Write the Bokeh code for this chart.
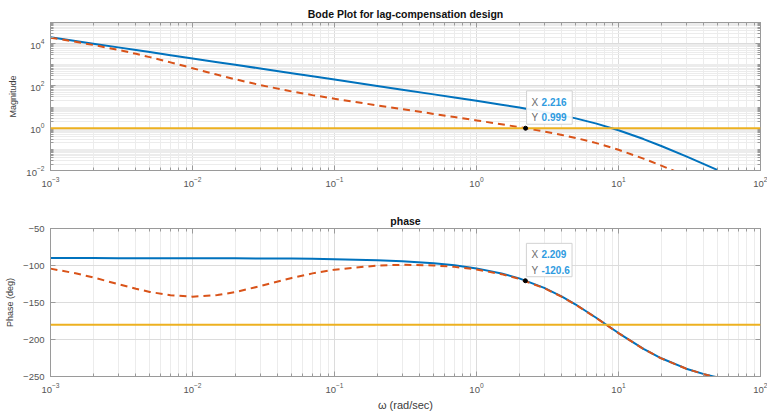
from bokeh.plotting import figure
from bokeh.layouts import column
from bokeh.models import (Span, Label, FixedTicker, LogAxis, LinearAxis, LogTicker,
                          Range1d, CustomJSTickFormatter)
from bokeh.embed import file_html
from bokeh.resources import INLINE

# ---------------- data ----------------
omega = [0.001, 0.0015, 0.002, 0.003, 0.004, 0.005, 0.007, 0.01, 0.015, 0.02,
         0.03, 0.05, 0.07, 0.1, 0.2, 0.3, 0.5, 0.7, 1.0, 1.5, 2.0, 3.0, 4.0,
         5.0, 7.0, 10.0, 15.0, 20.0, 30.0, 40.0, 50.0]

mag_uncomp = [20000, 13333, 10000, 6667, 5000, 4000, 2857, 2000, 1333, 1000,
              666.7, 400, 285.7, 200, 99.94, 66.58, 39.85, 28.36, 19.71, 12.90,
              9.439, 5.880, 4.039, 2.916, 1.653, 0.8041, 0.3068, 0.1439,
              0.04635, 0.02017, 0.01048]

mag_comp = [19220, 12244, 8672, 5057, 3297, 2305, 1299, 690.0, 336.5, 206.5,
            109.6, 54.88, 36.75, 24.76, 12.01, 7.957, 4.749, 3.375, 2.345,
            1.535, 1.123, 0.6995, 0.4805, 0.3469, 0.1967, 0.09566, 0.03650,
            0.01712, 0.005514, 0.0024, 0.001247]

phase_uncomp = [-90.01, -90.02, -90.03, -90.04, -90.06, -90.07, -90.10, -90.14,
                -90.21, -90.28, -90.42, -90.70, -90.98, -91.40, -92.79, -94.19,
                -96.98, -99.76, -103.91, -110.73, -117.41, -130.18, -142.01,
                -152.75, -170.98, -191.28, -212.67, -225.40, -239.42, -246.83,
                -251.37]

phase_comp = [-104.20, -110.56, -116.19, -125.14, -131.43, -135.68, -140.29,
              -142.08, -139.91, -135.90, -127.89, -116.86, -110.66, -105.59,
              -100.05, -99.05, -99.90, -101.85, -105.37, -111.70, -118.14,
              -130.67, -142.37, -153.04, -171.19, -191.43, -212.77, -225.47,
              -239.47, -246.87, -251.40]

mag_reference = 1.0
phase_reference = -180.0

tip_mag_x = [2.216]
tip_mag_y = [0.999]
tip_phase_x = [2.209]
tip_phase_y = [-120.6]

mag_major_ticks = [1e-2, 1e0, 1e2, 1e4]
phase_major_ticks = [-250, -200, -150, -100, -50]

# ---------------- styling ----------------
FONT = "Liberation Sans"
AX = "#9a9a9a"
TICK_TXT = "#555555"
BLUE = "#0072BD"
ORANGE = "#D95319"
YELLOW = "#EDB120"
TIP_VAL = "#2f9be0"

W = 767


def style_axes(p):
    p.background_fill_color = "white"
    p.border_fill_color = "white"
    p.outline_line_color = AX
    p.outline_line_width = 1
    for ax in p.axis:
        ax.axis_line_color = AX
        ax.major_tick_line_color = AX
        ax.minor_tick_line_color = AX
        ax.major_tick_in = 5
        ax.major_tick_out = 0
        ax.minor_tick_in = 3
        ax.minor_tick_out = 0
        ax.major_label_text_font = FONT
        ax.major_label_text_font_size = "9.5px"
        ax.major_label_text_color = TICK_TXT
        ax.axis_label_text_font = FONT
        ax.axis_label_text_font_style = "normal"
        ax.axis_label_text_color = "#3c3c3c"
    p.xaxis.major_label_standoff = 6
    p.yaxis.major_label_standoff = 6
    p.yaxis.axis_label_standoff = 5
    p.yaxis.axis_label_text_font_size = "9px"
    for g in p.grid:
        g.grid_line_color = "#dcdcdc"
        g.grid_line_width = 1
    p.title.text_font = FONT
    p.title.text_font_size = "10.5px"
    p.title.text_font_style = "bold"
    p.title.align = "center"
    p.title.text_color = "#111111"


def add_box_axes(p, xlog, ylog):
    xt = p.xaxis[0].ticker
    yt = p.yaxis[0].ticker
    top = (LogAxis if xlog else LinearAxis)(ticker=xt)
    right = (LogAxis if ylog else LinearAxis)(ticker=yt)
    for ax in (top, right):
        ax.formatter = CustomJSTickFormatter(code="return ''")
        ax.axis_line_color = AX
        ax.major_tick_line_color = AX
        ax.minor_tick_line_color = AX
        ax.major_tick_in = 5
        ax.major_tick_out = 0
        ax.minor_tick_in = 3
        ax.minor_tick_out = 0
        ax.major_label_text_font_size = "1px"
        ax.major_label_standoff = 0
    p.add_layout(top, "above")
    p.add_layout(right, "right")


def add_tip(p, tx, ty):
    p.scatter(tx, ty, size=4, color="black", level="overlay")
    # padding tuple order: (left, right, top, bottom)
    box = Label(x=tx[0], y=ty[0], x_offset=1, y_offset=4,
                text="X\nY", text_font=FONT, text_font_size="10px",
                text_color="#6b6b6b", text_line_height=1.4,
                text_baseline="bottom", text_align="left",
                background_fill_color="white", background_fill_alpha=0.92,
                border_line_color="#d2d2d2", border_line_width=1,
                padding=(5, 34, 6, 1))
    vals = Label(x=tx[0], y=ty[0], x_offset=16, y_offset=4,
                 text=f"{tx[0]}\n{ty[0]}", text_font=FONT, text_font_size="10px",
                 text_font_style="bold", text_color=TIP_VAL, text_line_height=1.4,
                 text_baseline="bottom", text_align="left",
                 padding=(0, 0, 6, 1))
    p.add_layout(box)
    p.add_layout(vals)


# ---------------- magnitude plot ----------------
p1 = figure(width=W, height=200, x_axis_type="log", y_axis_type="log",
            x_range=Range1d(1e-3, 1e2), y_range=Range1d(1e-2, 1e5),
            output_backend="svg", toolbar_location=None,
            title="Bode Plot for lag-compensation design",
            min_border_left=50, min_border_right=7, min_border_top=22,
            min_border_bottom=30)
mag_minor = [m * 10.0 ** k for k in range(-2, 5) for m in range(1, 10)
             if not (m == 1 and k % 2 == 0)]
p1.yaxis.ticker = FixedTicker(ticks=mag_major_ticks, minor_ticks=mag_minor)
p1.xaxis.ticker = LogTicker(num_minor_ticks=10)
style_axes(p1)
p1.yaxis.axis_label = "Magnitude"
p1.xgrid.minor_grid_line_color = "#ececec"
p1.ygrid.minor_grid_line_color = "#ececec"
p1.title.standoff = 5
add_box_axes(p1, True, True)

p1.line(omega, mag_uncomp, line_color=BLUE, line_width=2)
p1.line(omega, mag_comp, line_color=ORANGE, line_width=2, line_dash="7 5")
p1.add_layout(Span(location=mag_reference, dimension="width",
                   line_color=YELLOW, line_width=2))
add_tip(p1, tip_mag_x, tip_mag_y)

# ---------------- phase plot ----------------
p2 = figure(width=W, height=213, x_axis_type="log",
            x_range=Range1d(1e-3, 1e2), y_range=Range1d(-250, -50),
            output_backend="svg", toolbar_location=None, title="phase",
            min_border_left=50, min_border_right=7, min_border_top=28,
            min_border_bottom=36)
p2.yaxis.ticker = FixedTicker(ticks=phase_major_ticks, minor_ticks=[])
p2.xaxis.ticker = LogTicker(num_minor_ticks=10)
style_axes(p2)
p2.yaxis.axis_label = "Phase (deg)"
p2.xaxis.axis_label = "ω (rad/sec)"
p2.xaxis.axis_label_text_font_size = "11px"
p2.xaxis.axis_label_standoff = 3
p2.xgrid.minor_grid_line_color = "#ececec"
p2.title.standoff = 4
add_box_axes(p2, True, False)

p2.line(omega, phase_uncomp, line_color=BLUE, line_width=2)
p2.line(omega, phase_comp, line_color=ORANGE, line_width=2, line_dash="7 5")
p2.add_layout(Span(location=phase_reference, dimension="width",
                   line_color=YELLOW, line_width=2))
add_tip(p2, tip_phase_x, tip_phase_y)

layout = column(p1, p2)
open("out.html", "w").write(file_html(layout, INLINE))
